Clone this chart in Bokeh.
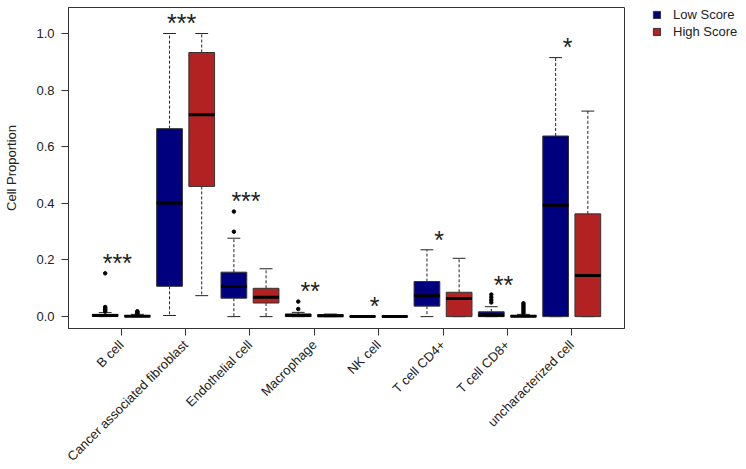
import math
from bokeh.plotting import figure
from bokeh.models import FixedTicker, Legend, LegendItem, Range1d
from bokeh.core.properties import value
from bokeh.embed import file_html
from bokeh.resources import INLINE

categories = ["B cell", "Cancer associated fibroblast", "Endothelial cell", "Macrophage",
              "NK cell", "T cell CD4+", "T cell CD8+", "uncharacterized cell"]
groups = ["Low Score", "High Score"]

low_lower = [0.000, 0.004, 0.000, 0.000, 0.000, 0.000, 0.000, 0.000]
low_q1 = [0.001, 0.107, 0.065, 0.000, 0.000, 0.037, 0.000, 0.000]
low_median = [0.004, 0.401, 0.106, 0.005, 0.000, 0.074, 0.005, 0.393]
low_q3 = [0.008, 0.664, 0.157, 0.009, 0.002, 0.124, 0.017, 0.638]
low_upper = [0.014, 1.000, 0.277, 0.015, 0.003, 0.236, 0.035, 0.915]
low_outliers = [[0.018, 0.022, 0.026, 0.030, 0.034, 0.153], [], [0.300, 0.371], [0.027, 0.053],
                [], [], [0.050, 0.059, 0.068, 0.078], []]

high_lower = [0.000, 0.074, 0.000, 0.000, 0.000, 0.000, 0.000, 0.000]
high_q1 = [0.000, 0.460, 0.048, 0.000, 0.000, 0.000, 0.000, 0.000]
high_median = [0.001, 0.713, 0.068, 0.003, 0.000, 0.064, 0.001, 0.145]
high_q3 = [0.004, 0.933, 0.100, 0.007, 0.002, 0.086, 0.004, 0.363]
high_upper = [0.008, 1.000, 0.169, 0.009, 0.003, 0.206, 0.008, 0.726]
high_outliers = [[0.010, 0.013, 0.016, 0.019], [], [], [], [], [],
                 [0.012, 0.018, 0.024, 0.030, 0.036, 0.042, 0.047], []]

sig_labels = ["***", "***", "***", "**", "*", "*", "**", "*"]
sig_y = [0.198, 1.047, 0.417, 0.100, 0.047, 0.280, 0.121, 0.962]

y_ticks = [0.0, 0.2, 0.4, 0.6, 0.8, 1.0]

LOW_COLOR = "#00007F"
HIGH_COLOR = "#B22222"
FONT = "Liberation Sans"

n = len(categories)
x_low = [2 * i + 1 for i in range(n)]
x_high = [2 * i + 2 for i in range(n)]
x_center = [2 * i + 1.5 for i in range(n)]

p = figure(frame_width=556, frame_height=321, width=740, height=458,
           x_range=Range1d(-0.14, 17.14), y_range=Range1d(-0.042, 1.092),
           output_backend="svg", toolbar_location=None,
           min_border_left=68, min_border_top=7, min_border_bottom=130, min_border_right=116)
p.background_fill_color = "white"
p.border_fill_color = "white"
p.outline_line_color = "#333333"
p.outline_line_width = 1
p.xgrid.visible = False
p.ygrid.visible = False

renderers = {}
for name, xs, lo, q1, med, q3, hi, outs, col in [
        ("Low Score", x_low, low_lower, low_q1, low_median, low_q3, low_upper, low_outliers, LOW_COLOR),
        ("High Score", x_high, high_lower, high_q1, high_median, high_q3, high_upper, high_outliers, HIGH_COLOR)]:
    p.segment(x0=xs, y0=q3, x1=xs, y1=hi, line_color="#222222", line_dash="3 2", line_width=1)
    p.segment(x0=xs, y0=q1, x1=xs, y1=lo, line_color="#222222", line_dash="3 2", line_width=1)
    p.segment(x0=[x - 0.2 for x in xs], y0=hi, x1=[x + 0.2 for x in xs], y1=hi,
              line_color="#222222", line_width=1)
    p.segment(x0=[x - 0.2 for x in xs], y0=lo, x1=[x + 0.2 for x in xs], y1=lo,
              line_color="#222222", line_width=1)
    r = p.vbar(x=xs, width=0.8, bottom=q1, top=q3, fill_color=col, line_color="#333333", line_width=1)
    renderers[name] = r
    p.segment(x0=[x - 0.4 for x in xs], y0=med, x1=[x + 0.4 for x in xs], y1=med,
              line_color="black", line_width=3)
    ox, oy = [], []
    for x, vals in zip(xs, outs):
        for v in vals:
            ox.append(x)
            oy.append(v)
    p.scatter(x=ox, y=oy, size=3.5, marker="circle", fill_color="black", line_color="black")

p.text(x=x_center, y=sig_y, text=sig_labels, text_font=value(FONT), text_font_size="25px",
       text_align="center", text_baseline="alphabetic", x_offset=-4, y_offset=2.5,
       text_color="#222222")

# axes
p.yaxis.ticker = FixedTicker(ticks=y_ticks)
p.yaxis.major_label_overrides = {t: f"{t:.1f}" for t in y_ticks}
p.yaxis.axis_label = "Cell Proportion"
p.yaxis.axis_label_text_font = FONT
p.yaxis.axis_label_text_font_size = "13px"
p.yaxis.axis_label_text_font_style = "normal"
p.yaxis.axis_label_text_color = "#222222"
p.yaxis.axis_label_standoff = 14
p.xaxis.ticker = FixedTicker(ticks=x_center)
p.xaxis.major_label_overrides = {x: c for x, c in zip(x_center, categories)}
p.xaxis.major_label_orientation = math.pi / 4
for ax in (p.xaxis, p.yaxis):
    ax.major_label_text_font = FONT
    ax.major_label_text_font_size = "13px"
    ax.major_label_text_color = "#222222"
    ax.major_tick_in = 0
    ax.major_tick_out = 7
    ax.major_tick_line_color = "#333333"
    ax.minor_tick_line_color = None
    ax.axis_line_color = "#333333"
    ax.major_label_standoff = 7

legend = Legend(items=[LegendItem(label=g, renderers=[renderers[g]]) for g in groups],
                location=(28, 289), margin=0, padding=0, spacing=2,
                glyph_width=9, glyph_height=9, label_standoff=12, label_height=15,
                label_text_font=FONT, label_text_font_size="13px", label_text_color="#222222",
                border_line_color=None, background_fill_alpha=0)
p.add_layout(legend, "right")

open("out.html", "w").write(file_html(p, INLINE))
